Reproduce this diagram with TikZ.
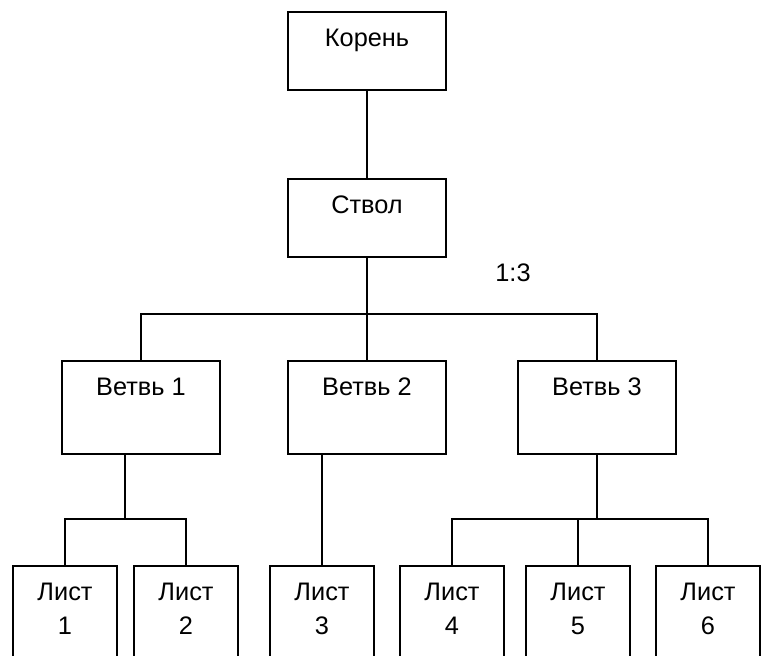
\documentclass[tikz,border=0pt]{standalone}
\usepackage{fontspec}
\setmainfont{Liberation Sans}
\tikzstyle{block} = [rectangle, draw=black, line width=1.7pt, minimum width=119pt, inner xsep=2pt, inner ysep=0pt, text height=25.5pt, anchor=north, align=center]
\tikzstyle{rootbox} = [block, text depth=33pt]
\tikzstyle{branch} = [block, text depth=44.25pt]
\tikzstyle{leaf} = [block, minimum width=78pt, text height=51pt, text depth=39pt]
\tikzstyle{link} = [line width=1.7pt]
\begin{document}
\begin{tikzpicture}[x=0.75pt, y=-0.75pt, font=\fontsize{19}{25.5}\selectfont]
        \useasboundingbox (0,0) rectangle (761,656);
        \clip (0,0) rectangle (761,656);
        % Nodes
        \node (root) [rootbox] at (367,11) {Корень};
        \node (trunk) [rootbox] at (367,178) {Ствол};
        \node (branch1) [branch] at (141,360) {Ветвь 1};
        \node (branch2) [branch] at (367,360) {Ветвь 2};
        \node (branch3) [branch] at (597,360) {Ветвь 3};
        \node (leaf1) [leaf] at (65,565) {Лист\\1};
        \node (leaf2) [leaf] at (186,565) {Лист\\2};
        \node (leaf3) [leaf] at (322,565) {Лист\\3};
        \node (leaf4) [leaf] at (452,565) {Лист\\4};
        \node (leaf5) [leaf] at (578,565) {Лист\\5};
        \node (leaf6) [leaf] at (708,565) {Лист\\6};
        \node (ratio) at (513,273) {1:3};
        \coordinate (fork) at (367,314);
        \coordinate (fork1) at (125,519);
        \coordinate (fork3) at (597,519);

        % Lines
        \draw [link] (root) -- (trunk);
        \draw [link] (trunk) -- (branch2);
        \draw [link] (branch1.north) |- (fork) -| (branch3.north);
        \draw [link] (fork1 |- branch1.south) -- (fork1);
        \draw [link] (leaf1.north) |- (fork1) -| (leaf2.north);
        \draw [link] (branch2.south -| leaf3.north) -- (leaf3.north);
        \draw [link] (branch3) -- (fork3);
        \draw [link] (leaf4.north) |- (fork3) -| (leaf6.north);
        \draw [link] (leaf5.north) -- (leaf5.north |- fork3);
\end{tikzpicture}
\end{document}
